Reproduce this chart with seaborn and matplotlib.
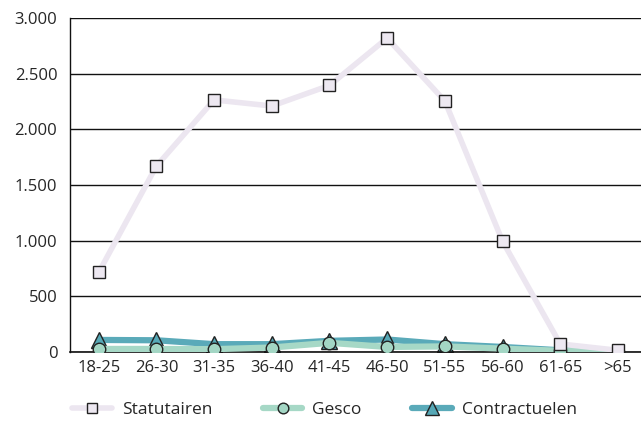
import pandas as pd
import matplotlib.pyplot as plt
import matplotlib.ticker as mticker
import seaborn as sns

# Age groups and staff counts per category
age_groups = ["18-25", "26-30", "31-35", "36-40", "41-45", "46-50", "51-55", "56-60", "61-65", ">65"]
statutairen = [715, 1670, 2265, 2210, 2395, 2820, 2255, 995, 72, 15]
gesco = [27, 27, 25, 40, 82, 45, 50, 30, 10, 0]
contractuelen = [108, 105, 70, 70, 100, 112, 70, 45, 15, 0]

series_names = ["Statutairen", "Gesco", "Contractuelen"]
df = pd.DataFrame({
    "age": age_groups * 3,
    "pos": list(range(len(age_groups))) * 3,
    "count": statutairen + gesco + contractuelen,
    "serie": [s for s in series_names for _ in age_groups],
})

sns.set_style("white")
plt.rcParams["font.family"] = ["Open Sans", "DejaVu Sans"]

line_colors = {"Statutairen": "#ece6f0", "Gesco": "#a6d8c6", "Contractuelen": "#5aaab9"}
face_colors = {"Statutairen": "#ede8f1", "Gesco": "#a3d6c4", "Contractuelen": "#56a8b6"}
marker_styles = {"Statutairen": "s", "Gesco": "o", "Contractuelen": "^"}
marker_sizes = {"Statutairen": 8.6, "Gesco": 9.0, "Contractuelen": 11.5}
line_widths = {"Statutairen": 4.0, "Gesco": 4.5, "Contractuelen": 4.5}

fig = plt.figure(figsize=(6.41, 4.21), dpi=100)
ax = fig.add_axes([0.109, 0.164, 0.90, 0.793])

# Contractuelen at the back, Statutairen in front
for name, z in [("Contractuelen", 2), ("Gesco", 3), ("Statutairen", 4)]:
    sub = df[df["serie"] == name]
    sns.lineplot(
        data=sub, x="pos", y="count", ax=ax,
        color=line_colors[name], linewidth=line_widths[name], marker=marker_styles[name],
        markersize=marker_sizes[name],
        markerfacecolor=face_colors[name], markeredgecolor="#222222",
        markeredgewidth=1.0, label=name, zorder=z,
    )

ax.set_xlim(-0.5, 9.5)
ax.set_ylim(0, 3000)
ax.set_yticks(range(0, 3001, 500))
ax.yaxis.set_major_formatter(mticker.FuncFormatter(lambda v, p: f"{int(v):,}".replace(",", ".")))
ax.set_xticks(range(len(age_groups)))
ax.set_xticklabels(age_groups)
ax.set_xticks([i + 0.5 for i in range(len(age_groups) - 1)], minor=True)
ax.tick_params(axis="x", which="major", length=0, labelsize=12, pad=6)
ax.tick_params(axis="x", which="minor", length=4, direction="in", color="#222222", width=0.8)
ax.tick_params(axis="y", length=0, labelsize=12, pad=9)
ax.grid(axis="y", color="#111111", linewidth=1.0)
ax.set_axisbelow(True)
ax.set_xlabel("")
ax.set_ylabel("")
for side in ["top", "right"]:
    ax.spines[side].set_visible(False)
ax.spines["left"].set_color("#111111")
ax.spines["bottom"].set_color("#111111")
ax.spines["left"].set_linewidth(1.0)
ax.spines["bottom"].set_linewidth(1.2)

handles, labels = ax.get_legend_handles_labels()
order = [labels.index(n) for n in series_names]
ax.legend([handles[i] for i in order], series_names, loc="center left",
          bbox_to_anchor=(72 / 641, 1 - 410 / 421), bbox_transform=fig.transFigure,
          ncol=3, frameon=False, fontsize=12.5, borderpad=0, borderaxespad=0,
          handlelength=2.3, columnspacing=2.9, handletextpad=0.57, markerscale=0.85)

plt.savefig("out.png", dpi=100)
plt.close()
